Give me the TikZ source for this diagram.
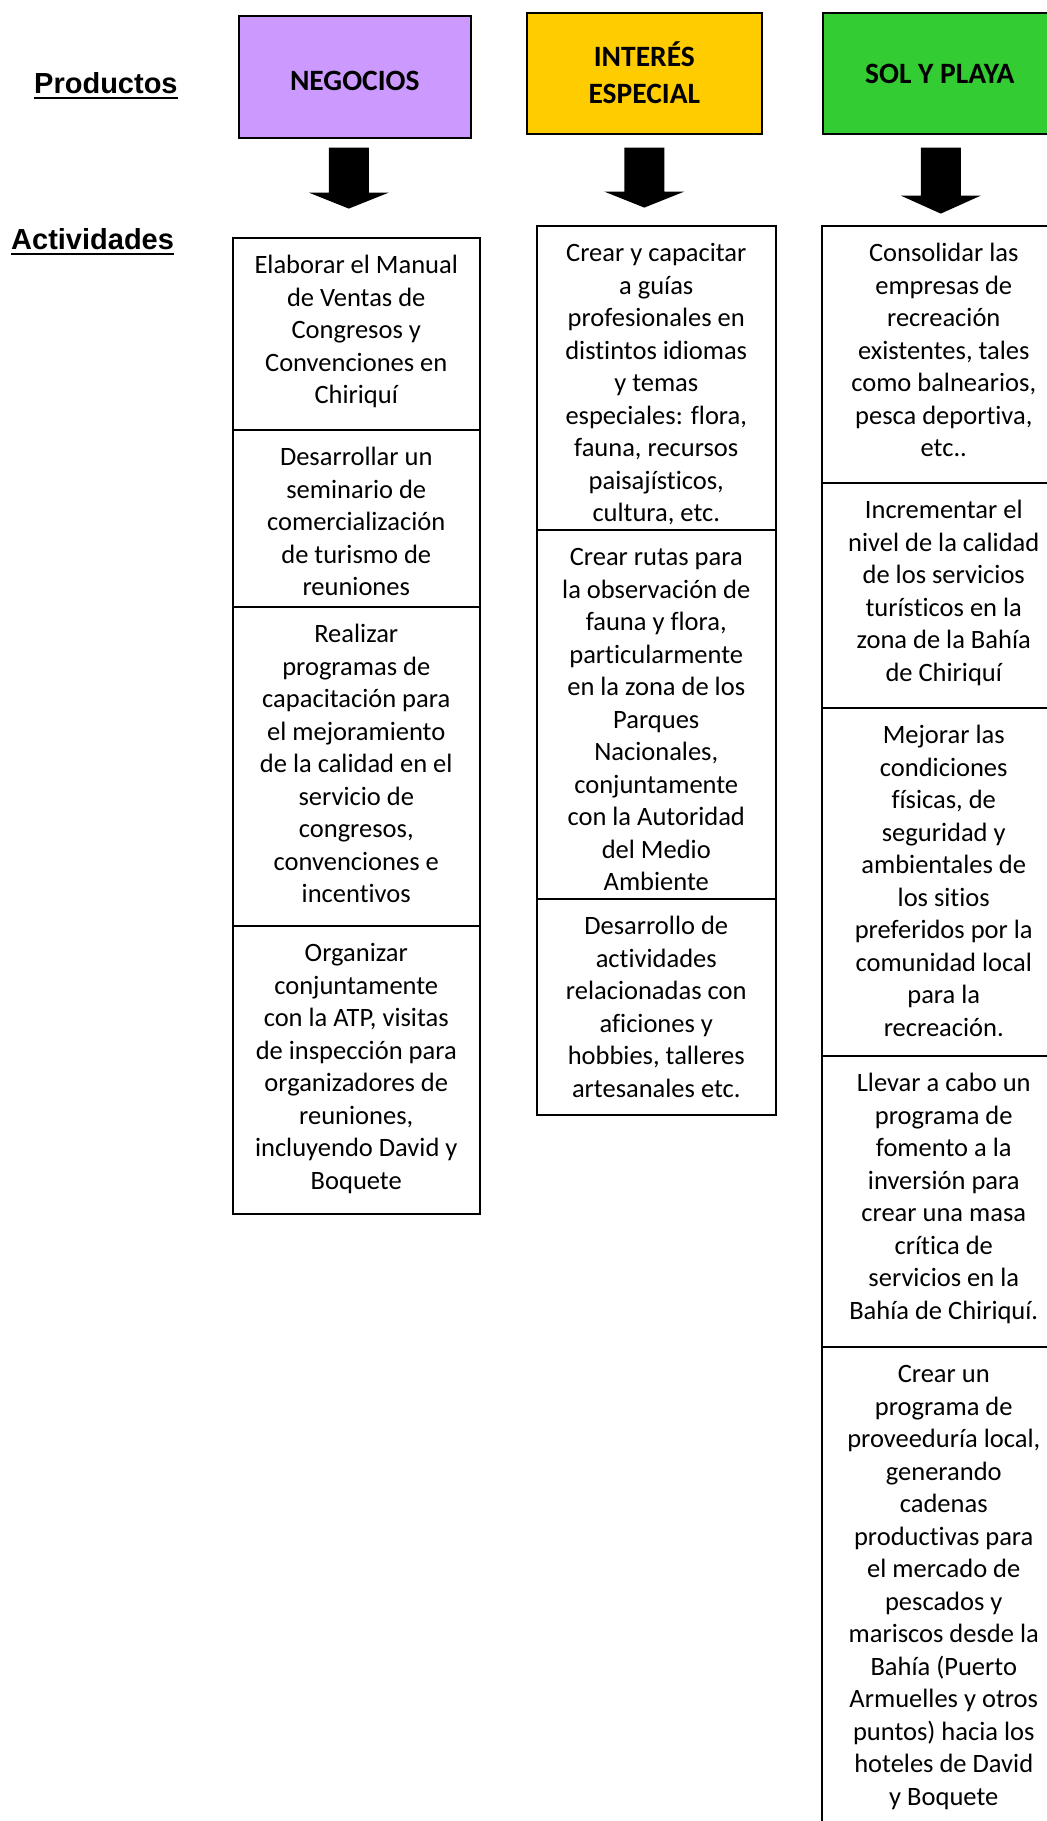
\documentclass[tikz,border=0pt]{standalone}
\usepackage{fontspec}
\setmainfont{Carlito}[Ligatures=NoCommon, Contextuals=NoAlternate]
\newfontfamily\labelfont{Liberation Sans}
\usetikzlibrary{calc}

\definecolor{negocios}{HTML}{CC99FF}
\definecolor{interes}{HTML}{FFCC00}
\definecolor{solplaya}{HTML}{33CC33}

\begin{document}
\begin{tikzpicture}[x=1pt, y=-1pt,
  header/.style={draw=black, line width=1.6pt, anchor=north west, inner sep=0pt},
  headtext/.style={inner sep=0pt, align=center, font=\fontsize{29.5}{37}\selectfont\bfseries},
  cell/.style={draw=black, line width=1.5pt, fill=white, anchor=north west, inner sep=0pt},
  body/.style={anchor=north, inner sep=0pt, align=center, font=\fontsize{26.5}{32.5}\selectfont},
  sidelabel/.style={anchor=base west, inner sep=0pt, font=\labelfont\bfseries\fontsize{29}{34}\selectfont},
  blockarrow/.style={fill=black}
]
\useasboundingbox (0,0) rectangle (1047,1821);
\clip (0,0) rectangle (1047,1821);

% row labels
\node[sidelabel] (prod) at (34,93) {Productos};
\draw[line width=2.6pt] ($(prod.base west)+(0,5)$) -- ($(prod.base east)+(0,5)$);
\node[sidelabel] (act) at (11,249) {Actividades};
\draw[line width=2.8pt] ($(act.base west)+(0,5)$) -- ($(act.base east)+(0,5)$);

% product boxes
\node[header, fill=negocios, minimum width=232pt, minimum height=122pt] (neg) at (238,15) {};
\node[headtext, anchor=base] (negt) at ($(neg.north)+(0,75)$) {NEGOCIOS};
\node[header, fill=interes, minimum width=235pt, minimum height=121pt] (int) at (526,12) {};
\node[headtext, anchor=north] (intt) at ($(int.north)+(0,28)$) {\strut INTERÉS\\ESPECIAL};
\node[header, fill=solplaya, minimum width=236pt, minimum height=121pt] (sol) at (822,12) {};
\node[headtext, anchor=base] (solt) at ($(sol.north)+(-1,71)$) {SOL Y PLAYA};

% block arrows from the products to their activities
\coordinate (a1) at ($(neg.south)+(-6,9)$);
\coordinate (a2) at ($(int.south)+(0,13)$);
\coordinate (a3) at ($(sol.south)+(0,13)$);
\fill[blockarrow] (a1) ++(-20,0) -- ++(40,0) -- ++(0,45) -- ++(20,0) -- ++(-40,16) -- ++(-40,-16) -- ++(20,0) -- cycle;
\fill[blockarrow] (a2) ++(-20,0) -- ++(40,0) -- ++(0,44) -- ++(20,0) -- ++(-40,16) -- ++(-40,-16) -- ++(20,0) -- cycle;
\fill[blockarrow] (a3) ++(-20,0) -- ++(40,0) -- ++(0,48) -- ++(20,0) -- ++(-40,18) -- ++(-40,-18) -- ++(20,0) -- cycle;

% NEGOCIOS activities
\node[cell, minimum width=247pt, minimum height=192pt] (c1a) at (232,237) {};
\node[cell, minimum width=247pt, minimum height=177pt] (c1b) at (232,429) {};
\node[cell, minimum width=247pt, minimum height=319pt] (c1c) at (232,606) {};
\node[cell, minimum width=247pt, minimum height=288pt] (c1d) at (232,925) {};
\node[body] (t1a) at ($(c1a.north)+(0,14)$) {\strut Elaborar el Manual\\de Ventas de\\Congresos y\\Convenciones en\\Chiriquí};
\node[body] (t1b) at ($(c1b.north)+(0,14)$) {\strut Desarrollar un\\seminario de\\comercialización\\de turismo de\\reuniones};
\node[body] (t1c) at ($(c1c.north)+(0,14)$) {\strut Realizar\\programas de\\capacitación para\\el mejoramiento\\de la calidad en el\\servicio de\\congresos,\\convenciones e\\incentivos};
\node[body] (t1d) at ($(c1d.north)+(0,14)$) {\strut Organizar\\conjuntamente\\con la ATP, visitas\\de inspección para\\organizadores de\\reuniones,\\incluyendo David y\\Boquete};

% INTERÉS ESPECIAL activities
\node[cell, minimum width=239pt, minimum height=304pt] (c2a) at (536,225) {};
\node[cell, minimum width=239pt, minimum height=369pt] (c2b) at (536,529) {};
\node[cell, minimum width=239pt, minimum height=216pt] (c2c) at (536,898) {};
\node[body] (t2a) at ($(c2a.north)+(0,14)$) {\strut Crear y capacitar\\a guías\\profesionales en\\distintos idiomas\\y temas\\especiales: flora,\\fauna, recursos\\paisajísticos,\\cultura, etc.};
\node[body] (t2b) at ($(c2b.north)+(0,14)$) {\strut Crear rutas para\\la observación de\\fauna y flora,\\particularmente\\en la zona de los\\Parques\\Nacionales,\\conjuntamente\\con la Autoridad\\del Medio\\Ambiente};
\node[body] (t2c) at ($(c2c.north)+(0,14)$) {\strut Desarrollo de\\actividades\\relacionadas con\\aficiones y\\hobbies, talleres\\artesanales etc.};

% SOL Y PLAYA activities
\node[cell, minimum width=244pt, minimum height=257pt] (c3a) at (821,225) {};
\node[cell, minimum width=244pt, minimum height=225pt] (c3b) at (821,482) {};
\node[cell, minimum width=244pt, minimum height=348pt] (c3c) at (821,707) {};
\node[cell, minimum width=244pt, minimum height=291pt] (c3d) at (821,1055) {};
\node[cell, minimum width=244pt, minimum height=520pt] (c3e) at (821,1346) {};
\node[body] (t3a) at ($(c3a.north)+(0,14)$) {\strut Consolidar las\\empresas de\\recreación\\existentes, tales\\como balnearios,\\pesca deportiva,\\etc..};
\node[body] (t3b) at ($(c3b.north)+(0,14)$) {\strut Incrementar el\\nivel de la calidad\\de los servicios\\turísticos en la\\zona de la Bahía\\de Chiriquí};
\node[body] (t3c) at ($(c3c.north)+(0,14)$) {\strut Mejorar las\\condiciones\\físicas, de\\seguridad y\\ambientales de\\los sitios\\preferidos por la\\comunidad local\\para la\\recreación.};
\node[body] (t3d) at ($(c3d.north)+(0,14)$) {\strut Llevar a cabo un\\programa de\\fomento a la\\inversión para\\crear una masa\\crítica de\\servicios en la\\Bahía de Chiriquí.};
\node[body] (t3e) at ($(c3e.north)+(0,14)$) {\strut Crear un\\programa de\\proveeduría local,\\generando\\cadenas\\productivas para\\el mercado de\\pescados y\\mariscos desde la\\Bahía (Puerto\\Armuelles y otros\\puntos) hacia los\\hoteles de David\\y Boquete};
\end{tikzpicture}
\end{document}
